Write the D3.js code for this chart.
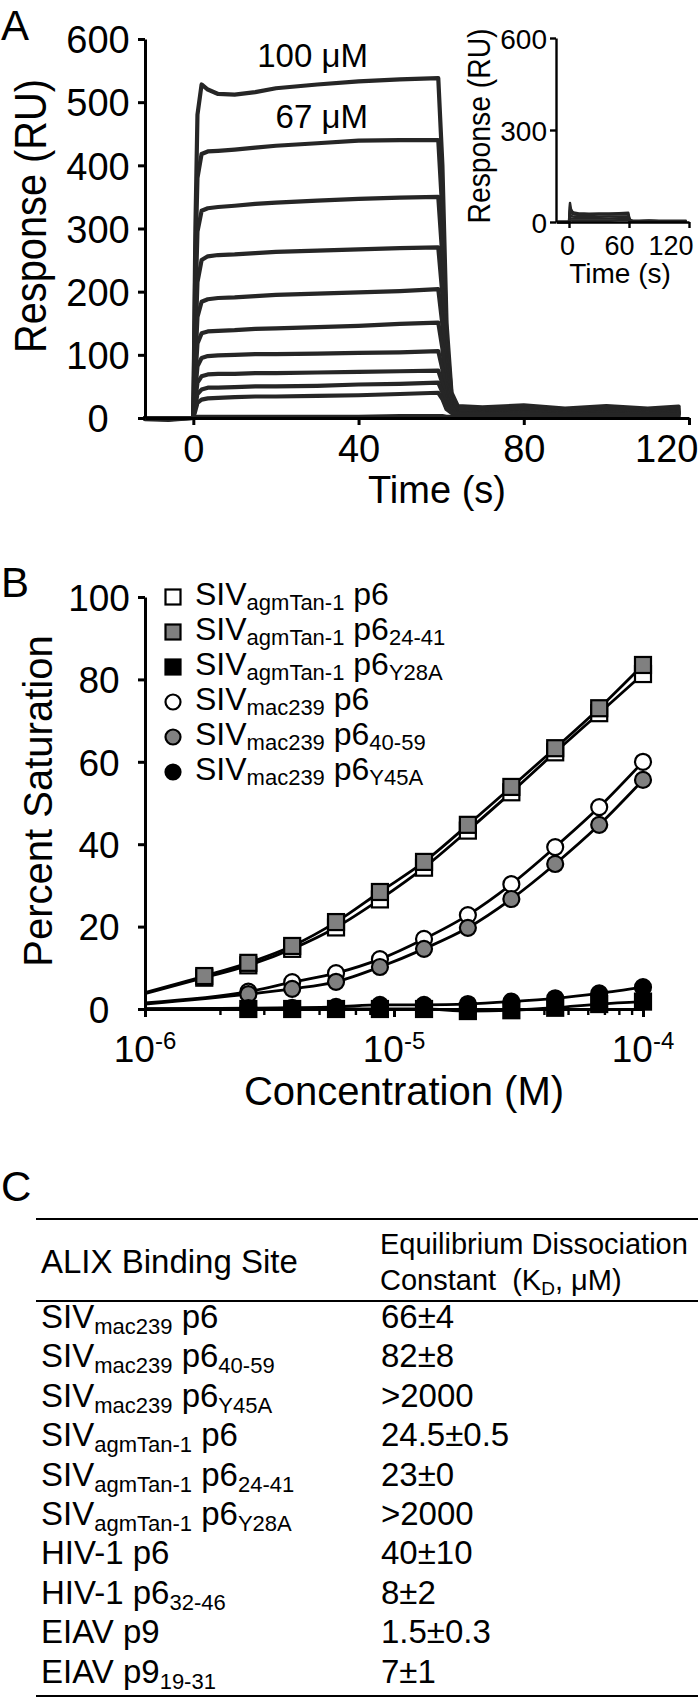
<!DOCTYPE html>
<html><head><meta charset="utf-8">
<script src="https://cdn.jsdelivr.net/npm/d3@7"></script>
<style>
body{margin:0;background:#fff}
svg{display:block}
text{font-family:"Liberation Sans",Arial,Helvetica,sans-serif;fill:#000;white-space:pre}
</style>
</head><body>
<svg id="fig" width="700" height="1701"></svg>
<script>
// ---------------- Panel A : sensorgram data (time in s, response in RU)
const sensorTimes = [-11.7, -6, 0, 0.5, 1, 2, 3.5, 6, 10, 15, 20, 30, 40, 50, 59.3, 60.3, 61.3, 62.5, 64, 70, 80, 90, 100, 110, 117.5];
const trace100uM = [-2, -3, 0, 300, 480, 528, 520, 513, 512, 516, 522, 528, 533, 536, 538, 400, 150, 40, 19, 17, 20, 15, 19, 15, 18];
const trace67uM  = [-1, -2, 0, 250, 380, 418, 422, 423, 425, 428, 431, 435, 439, 440, 440, 325, 125, 36, 17, 15, 17, 13, 16, 13, 15];
const trace44uM  = [0, -1, 0, 180, 295, 328, 332, 334, 336, 339, 341, 344, 347, 349, 350, 255, 98, 30, 15, 13, 15, 12, 14, 11, 13];
const trace30uM  = [0, 0, 0, 120, 215, 250, 256, 258, 259, 261, 263, 265, 267, 269, 270, 196, 76, 26, 13, 12, 13, 10, 12, 10, 11];
const trace20uM  = [0, 0, 0, 90, 160, 184, 188, 190, 191, 193, 195, 197, 199, 201, 204, 148, 58, 22, 12, 10, 12, 9, 11, 9, 10];
const trace13uM  = [0, 0, 0, 65, 118, 134, 137, 138, 139, 141, 142, 144, 146, 149, 151, 110, 45, 18, 10, 9, 10, 8, 9, 8, 9];
const trace9uM   = [0, 0, 0, 45, 82, 95, 98, 99, 100, 101, 101, 102, 103, 104, 106, 77, 33, 15, 9, 8, 9, 7, 8, 7, 8];
const trace6uM   = [0, 0, 0, 30, 56, 66, 69, 70, 70, 71, 71, 72, 73, 74, 75, 55, 25, 12, 8, 7, 8, 6, 7, 6, 7];
const trace4uM   = [0, 0, 0, 20, 38, 45, 48, 48, 49, 50, 50, 51, 53, 54, 56, 41, 19, 10, 7, 6, 7, 5, 6, 5, 6];
const trace3uM   = [0, 0, 0, 12, 24, 29, 31, 32, 33, 34, 34, 35, 36, 38, 40, 30, 14, 8, 6, 5, 6, 4, 5, 4, 5];
const trace0uM   = [0, 0, 0, 1, 2, 2, 2, 2, 2, 2, 2, 2, 2, 3, 3, 3, 2, 2, 2, 2, 2, 2, 2, 2, 2];
const mainTraces = [trace100uM, trace67uM, trace44uM, trace30uM, trace20uM, trace13uM, trace9uM, trace6uM, trace4uM, trace3uM, trace0uM];
const aYTicks = [0, 100, 200, 300, 400, 500, 600];
const aXTicks = [0, 40, 80, 120];
const traceLabels = ["100 \u03bcM", "67 \u03bcM"];

// inset
const insetTraceA = [0, 0, 0, 45, 62, 42, 33, 30, 28, 28, 27, 28, 28, 29, 30, 14, 7, 5, 4, 4, 5, 4, 4, 4, 4];
const insetTraceB = [0, 0, 0, 30, 40, 30, 26, 24, 23, 23, 23, 24, 24, 25, 25, 12, 6, 4, 3, 3, 4, 3, 3, 3, 3];
const insetTraceC = [0, 0, 0, 20, 25, 20, 18, 17, 17, 17, 17, 17, 18, 18, 18, 9, 5, 3, 3, 3, 3, 3, 3, 3, 3];
const insetTraceD = [0, 0, 0, 12, 14, 12, 11, 11, 11, 11, 11, 11, 11, 12, 12, 6, 3, 2, 2, 2, 2, 2, 2, 2, 2];
const insetTraceE = [0, 0, 0, 5, 7, 6, 5, 5, 5, 5, 5, 5, 5, 6, 6, 3, 2, 1, 1, 1, 1, 1, 1, 1, 1];
const insetTraces = [insetTraceA, insetTraceB, insetTraceC, insetTraceD, insetTraceE];
const insetYTicks = [0, 300, 600];
const insetXTicks = [0, 60, 120];

// ---------------- Panel B : saturation data
const concentrations = [1.73e-6, 2.6e-6, 3.9e-6, 5.85e-6, 8.78e-6, 1.32e-5, 1.98e-5, 2.96e-5, 4.44e-5, 6.67e-5, 1e-4];
const agmP6      = [7.6, 10.6, 14.6, 19.8, 26.6, 34.3, 43.3, 52.6, 62.3, 71.8, 81.3];
const agmP6_2441 = [8.0, 11.2, 15.3, 21.1, 28.4, 35.7, 44.7, 53.9, 63.3, 73.0, 83.5];
const agmP6_Y28A = [null, 0, 0, 0, 0, 0, -0.5, -0.3, 0.3, 1.2, 1.8];
const macP6      = [null, 4.2, 6.5, 8.7, 12.1, 17.0, 22.8, 30.3, 39.3, 49.0, 60.0];
const macP6_4059 = [null, 3.6, 4.9, 6.6, 10.2, 14.6, 19.7, 26.7, 35.2, 44.7, 55.6];
const macP6_Y45A = [null, 0.2, 0.3, 0.5, 1.0, 1.0, 1.2, 1.8, 2.6, 3.8, 5.3];
const curveStartConc = 1e-6;
const curveStartValues = [3.7, 4.0, 0, 1.5, 1.2, 0.1];
const seriesValues = [agmP6, agmP6_Y28A, agmP6_2441, macP6, macP6_4059, macP6_Y45A];
const seriesOrder  = [0, 2, 1, 3, 4, 5]; // legend index of each seriesValues entry
const legendStrain = ["agmTan-1", "agmTan-1", "agmTan-1", "mac239", "mac239", "mac239"];
const legendSuffix = ["", "24-41", "Y28A", "", "40-59", "Y45A"];
const legendShape  = ["square", "square", "square", "circle", "circle", "circle"];
const legendFill   = ["#ffffff", "#808080", "#000000", "#ffffff", "#808080", "#000000"];
const bYTicks = [0, 20, 40, 60, 80, 100];
const bXMajor = [1e-6, 1e-5, 1e-4];
const bXExponents = ["-6", "-5", "-4"];

// ---------------- Panel C : table
const tableVirus      = ["SIV", "SIV", "SIV", "SIV", "SIV", "SIV", "HIV-1", "HIV-1", "EIAV", "EIAV"];
const tableStrain     = ["mac239", "mac239", "mac239", "agmTan-1", "agmTan-1", "agmTan-1", "", "", "", ""];
const tableProtein    = ["p6", "p6", "p6", "p6", "p6", "p6", "p6", "p6", "p9", "p9"];
const tableProteinSub = ["", "40-59", "Y45A", "", "24-41", "Y28A", "", "32-46", "", "19-31"];
const tableKd         = ["66\u00b14", "82\u00b18", ">2000", "24.5\u00b10.5", "23\u00b10", ">2000", "40\u00b110", "8\u00b12", "1.5\u00b10.3", "7\u00b11"];

// =====================================================================
const svg = d3.select("#fig");
svg.append("rect").attr("width", 700).attr("height", 1701).attr("fill", "#fff");
const INK = "#262626";

function richText(g, x, y, parts, fs, ss, sdy, anchor) {
  const t = g.append("text").attr("x", x).attr("y", y).attr("font-size", fs)
    .attr("text-anchor", anchor || "start");
  let cur = 0;
  parts.forEach(([s, sub]) => {
    if (!s) return;
    const want = sub ? sdy : 0;
    t.append("tspan").attr("dy", want - cur).attr("font-size", sub ? ss : fs).text(s);
    cur = want;
  });
  return t;
}
function styleAxis(g, w) {
  g.attr("font-size", null).attr("font-family", null);
  g.select(".domain").attr("stroke", "#000").attr("stroke-width", w);
  g.selectAll(".tick line").attr("stroke", "#000").attr("stroke-width", w);
}

// ---------------- Panel A
svg.append("text").attr("x", 1).attr("y", 40).attr("font-size", 42).text("A");
const xA = d3.scaleLinear().domain([-11.7, 120]).range([145, 689]);
const yA = d3.scaleLinear().domain([0, 600]).range([418, 39]);
const lineA = d3.line().x((d, i) => xA(sensorTimes[i])).y(d => yA(d));
const gA = svg.append("g");
gA.selectAll("path.trace").data(mainTraces).join("path").attr("class", "trace")
  .attr("d", lineA).attr("fill", "none").attr("stroke", INK).attr("stroke-width", 4.2)
  .attr("stroke-linejoin", "round").attr("stroke-linecap", "round");

const axAy = gA.append("g").attr("transform", "translate(145,0)")
  .call(d3.axisLeft(yA).tickValues(aYTicks).tickSize(7).tickSizeOuter(0));
styleAxis(axAy, 3);
axAy.selectAll(".tick text").attr("x", -47).attr("text-anchor", "middle").attr("dy", "0.36em").attr("font-size", 38);
const axAx = gA.append("g").attr("transform", "translate(0,418)")
  .call(d3.axisBottom(xA).tickValues(aXTicks).tickSize(7).tickSizeOuter(0));
styleAxis(axAx, 3);
axAx.selectAll(".tick text").attr("y", 44).attr("dy", 0).attr("font-size", 38)
  .filter(d => d === 120).attr("text-anchor", "end").attr("x", 9);
gA.append("text").attr("transform", "translate(46,216) rotate(-90)").attr("text-anchor", "middle")
  .attr("font-size", 44).attr("textLength", 274).attr("lengthAdjust", "spacingAndGlyphs").text("Response (RU)");
gA.append("text").attr("x", 437).attr("y", 503).attr("text-anchor", "middle").attr("font-size", 38).text("Time (s)");
gA.append("text").attr("x", 368).attr("y", 67).attr("text-anchor", "end").attr("font-size", 33).text(traceLabels[0]);
gA.append("text").attr("x", 368).attr("y", 128).attr("text-anchor", "end").attr("font-size", 33).text(traceLabels[1]);

// inset
const xI = d3.scaleLinear().domain([-13, 120]).range([556, 689]);
const yI = d3.scaleLinear().domain([0, 600]).range([222, 38]);
const lineI = d3.line().x((d, i) => xI(sensorTimes[i])).y(d => yI(d));
const gI = svg.append("g");
gI.selectAll("path.itrace").data(insetTraces).join("path").attr("class", "itrace")
  .attr("d", lineI).attr("fill", "none").attr("stroke", INK).attr("stroke-width", 2.4)
  .attr("stroke-linejoin", "round");
const axIy = gI.append("g").attr("transform", "translate(556,0)")
  .call(d3.axisLeft(yI).tickValues(insetYTicks).tickSize(6).tickSizeOuter(0));
styleAxis(axIy, 2.4);
axIy.selectAll(".tick text").attr("x", -9).attr("dy", "0.36em").attr("font-size", 28);
const axIx = gI.append("g").attr("transform", "translate(0,222)")
  .call(d3.axisBottom(xI).tickValues(insetXTicks).tickSize(6).tickSizeOuter(0));
styleAxis(axIx, 2.4);
axIx.selectAll(".tick text").attr("y", 33).attr("dy", 0).attr("font-size", 27)
  .attr("x", d => d === 0 ? -2 : (d === 60 ? -10 : 4))
  .attr("text-anchor", d => d === 120 ? "end" : "middle");
gI.append("text").attr("transform", "translate(490,126) rotate(-90)").attr("text-anchor", "middle")
  .attr("font-size", 31).attr("textLength", 195).attr("lengthAdjust", "spacingAndGlyphs").text("Response (RU)");
gI.append("text").attr("x", 620).attr("y", 283).attr("text-anchor", "middle").attr("font-size", 28).text("Time (s)");

// ---------------- Panel B
svg.append("text").attr("x", 1).attr("y", 597).attr("font-size", 42).text("B");
const xB = d3.scaleLog().domain([1e-6, 1e-4]).range([145, 643]);
const yB = d3.scaleLinear().domain([0, 100]).range([1009, 597]);
const gB = svg.append("g");
const lineB = d3.line().x(d => xB(d[0])).y(d => yB(d[1])).curve(d3.curveMonotoneX);
seriesValues.forEach((vals, si) => {
  const pts = [[curveStartConc, curveStartValues[seriesOrder[si]]]];
  vals.forEach((v, i) => { if (v !== null) pts.push([concentrations[i], v]); });
  gB.append("path").attr("d", lineB(pts)).attr("fill", "none").attr("stroke", "#000").attr("stroke-width", 2.8);
});
function marker(g, shape, cx, cy, fill, size) {
  if (shape === "square") {
    g.append("rect").attr("x", cx - size / 2).attr("y", cy - size / 2).attr("width", size).attr("height", size)
      .attr("fill", fill).attr("stroke", "#000").attr("stroke-width", 2.2);
  } else {
    g.append("circle").attr("cx", cx).attr("cy", cy).attr("r", size / 2)
      .attr("fill", fill).attr("stroke", "#000").attr("stroke-width", 2.2);
  }
}
seriesValues.forEach((vals, si) => {
  const li = seriesOrder[si];
  vals.forEach((v, i) => {
    if (v === null) return;
    marker(gB, legendShape[li], xB(concentrations[i]), yB(v), legendFill[li], 16);
  });
});
const axBy = gB.append("g").attr("transform", "translate(145,0)")
  .call(d3.axisLeft(yB).tickValues(bYTicks).tickSize(7).tickSizeOuter(0));
styleAxis(axBy, 3);
axBy.selectAll(".tick text").attr("x", -46).attr("text-anchor", "middle").attr("dy", "0.36em").attr("font-size", 37);
const minorTicks = [];
[1e-6, 1e-5].forEach(dec => { for (let k = 2; k <= 9; k++) minorTicks.push(dec * k); });
const allBTicks = bXMajor.concat(minorTicks);
const axBx = gB.append("g").attr("transform", "translate(0,1009)")
  .call(d3.axisBottom(xB).tickValues(allBTicks).tickSize(8).tickSizeOuter(0).tickFormat(""));
styleAxis(axBx, 3);
axBx.selectAll(".tick line").attr("y2", d => bXMajor.includes(d) ? 8 : 6)
  .attr("stroke-width", d => bXMajor.includes(d) ? 3 : 2.4);
bXMajor.forEach((v, i) => {
  richText(gB, xB(v), 1062, [["10", false], [bXExponents[i], true]], 37, 24, -13, "middle");
});
gB.append("text").attr("transform", "translate(52,801) rotate(-90)").attr("text-anchor", "middle")
  .attr("font-size", 40).text("Percent Saturation");
gB.append("text").attr("x", 404).attr("y", 1105).attr("text-anchor", "middle").attr("font-size", 40).text("Concentration (M)");
legendStrain.forEach((s, i) => {
  const cy = 597 + 35 * i;
  marker(gB, legendShape[i], 173, cy, legendFill[i], 15);
  richText(gB, 195, cy + 8, [["SIV", false], [s, true], [" p6", false], [legendSuffix[i], true]], 32, 22, 5);
});

// ---------------- Panel C : table
svg.append("text").attr("x", 1).attr("y", 1201).attr("font-size", 42).text("C");
const gC = svg.append("g");
[1219, 1301, 1696].forEach(y => gC.append("line").attr("x1", 36).attr("x2", 698).attr("y1", y).attr("y2", y)
  .attr("stroke", "#000").attr("stroke-width", 1.8));
gC.append("text").attr("x", 41).attr("y", 1273).attr("font-size", 33).text("ALIX Binding Site");
gC.append("text").attr("x", 380).attr("y", 1254).attr("font-size", 29).text("Equilibrium Dissociation");
richText(gC, 380, 1290, [["Constant  (K", false], ["D", true], [", \u03bcM)", false]], 29, 19, 5);
tableVirus.forEach((v, i) => {
  const y = 1328 + 39.4 * i;
  richText(gC, 41, y, [[v, false], [tableStrain[i], true], [" " + tableProtein[i], false], [tableProteinSub[i], true]], 33, 22, 6);
  gC.append("text").attr("x", 381).attr("y", y).attr("font-size", 33).text(tableKd[i]);
});
</script>
</body></html>
